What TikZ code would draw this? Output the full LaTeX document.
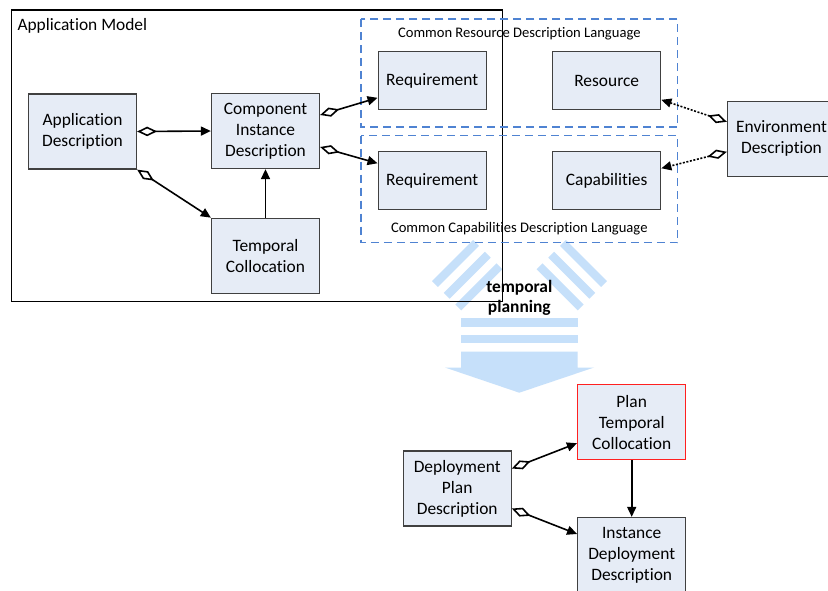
\documentclass[tikz,border=0pt]{standalone}
\usepackage{fontspec}
\setmainfont{Carlito}[Ligatures=NoCommon]
\usetikzlibrary{arrows.meta}
\definecolor{boxfill}{HTML}{E6ECF6}
\definecolor{boxline}{HTML}{404040}
\definecolor{dashblue}{HTML}{4F83D2}
\definecolor{flowblue}{HTML}{C6E0FA}
\definecolor{planred}{HTML}{FF2020}
\tikzset{
  box/.style={draw=boxline, fill=boxfill, line width=1.3pt, rectangle,
    minimum width=108pt, minimum height=75pt, inner sep=0pt, align=center,
    font=\fontsize{17.4}{21}\selectfont},
  smallbox/.style={box, minimum height=58pt},
  redbox/.style={box, draw=planred, line width=1.5pt},
  group/.style={draw=black, line width=1.1pt},
  langgroup/.style={draw=dashblue, line width=1.3pt, dash pattern=on 8pt off 5pt},
  langlabel/.style={font=\fontsize{14.6}{17}\selectfont},
  compose/.style={line width=1.6pt,
    {Diamond[open,length=20pt,width=9.5pt]}-{Triangle[length=10pt,width=9pt]}},
  dotcompose/.style={compose, dash pattern=on 2pt off 1.6pt},
  link/.style={line width=1.6pt, -{Triangle[length=10pt,width=9pt]}}
}
\begin{document}
\begin{tikzpicture}[x=1pt, y=-1pt]
\clip (0,0) rectangle (828,590);
\fill[white] (0,0) rectangle (828,590);

% converging planning arrow
\begin{scope}[fill=flowblue]
  \foreach \c in {(455.5,263.5),(467.2,275.2),(478.9,286.9)}
    \fill[shift={\c}, rotate=45] (-29pt,-4.15pt) rectangle (29pt,4.15pt);
  \foreach \c in {(583.5,263.5),(571.8,275.2),(560.1,286.9)}
    \fill[shift={\c}, rotate=-45] (-29pt,-4.15pt) rectangle (29pt,4.15pt);
  \fill (461,318.3) rectangle (577.7,326.7);
  \fill (461,335) rectangle (577.7,343.3);
  \fill (461,351.7) -- (577.7,351.7) -- (577.7,367.5) -- (594,367.5)
    -- (519.3,392.7) -- (445,367.5) -- (461,367.5) -- cycle;
\end{scope}
\node[font=\bfseries\fontsize{17.4}{20.5}\selectfont, align=center]
  (tp) at (519.3,298) {temporal\\planning};

% application model
\draw[group] (11.7,10) rectangle (502.7,301.3);
\node[anchor=west, font=\fontsize{17.4}{21}\selectfont] (am) at (14,26) {Application Model};

% description language groups
\draw[langgroup] (361,19) rectangle (677.7,127);
\draw[langgroup] (361,135.5) rectangle (677.7,242.7);
\node[langlabel] (crdl) at (519.3,34) {Common Resource Description Language};
\node[langlabel] (ccdl) at (519.3,229) {Common Capabilities Description Language};

% boxes
\node[box] (appd) at (82.5,131.5) {Application\\Description};
\node[box] (cid) at (265.5,131) {Component\\Instance\\Description};
\node[box] (tc) at (265.5,255.8) {Temporal\\Collocation};
\node[smallbox] (req1) at (432.2,80.8) {Requirement};
\node[smallbox] (res) at (606.7,80.8) {Resource};
\node[smallbox] (req2) at (432.2,180.8) {Requirement};
\node[smallbox] (cap) at (606.7,180.8) {Capabilities};
\node[box] (env) at (781.5,138.8) {Environment\\Description};
\node[box] (dpd) at (457.2,488.5) {Deployment\\Plan\\Description};
\node[redbox] (ptc) at (631.7,422.2) {Plan\\Temporal\\Collocation};
\node[box] (idd) at (631.7,555) {Instance\\Deployment\\Description};

% connectors
\draw[compose] (appd.east) -- (cid.west);
\draw[compose] (appd.south east) -- (tc.north west);
\draw[link] (tc.north) -- (cid.south);
\draw[compose] ([yshift=16pt]cid.east) -- ([yshift=-17pt]req1.west);
\draw[compose] ([yshift=-16pt]cid.east) -- ([yshift=17.5pt]req2.west);
\draw[dotcompose] ([yshift=17pt]env.west) -- ([yshift=-19pt]res.east);
\draw[dotcompose] ([yshift=-13pt]env.west) -- ([yshift=12.5pt]cap.east);
\draw[compose] ([yshift=20pt]dpd.east) -- ([yshift=-21pt]ptc.west);
\draw[compose] ([yshift=-20pt]dpd.east) -- ([yshift=21pt]idd.west);
\draw[link] (ptc.south) -- (idd.north);
\end{tikzpicture}
\end{document}
